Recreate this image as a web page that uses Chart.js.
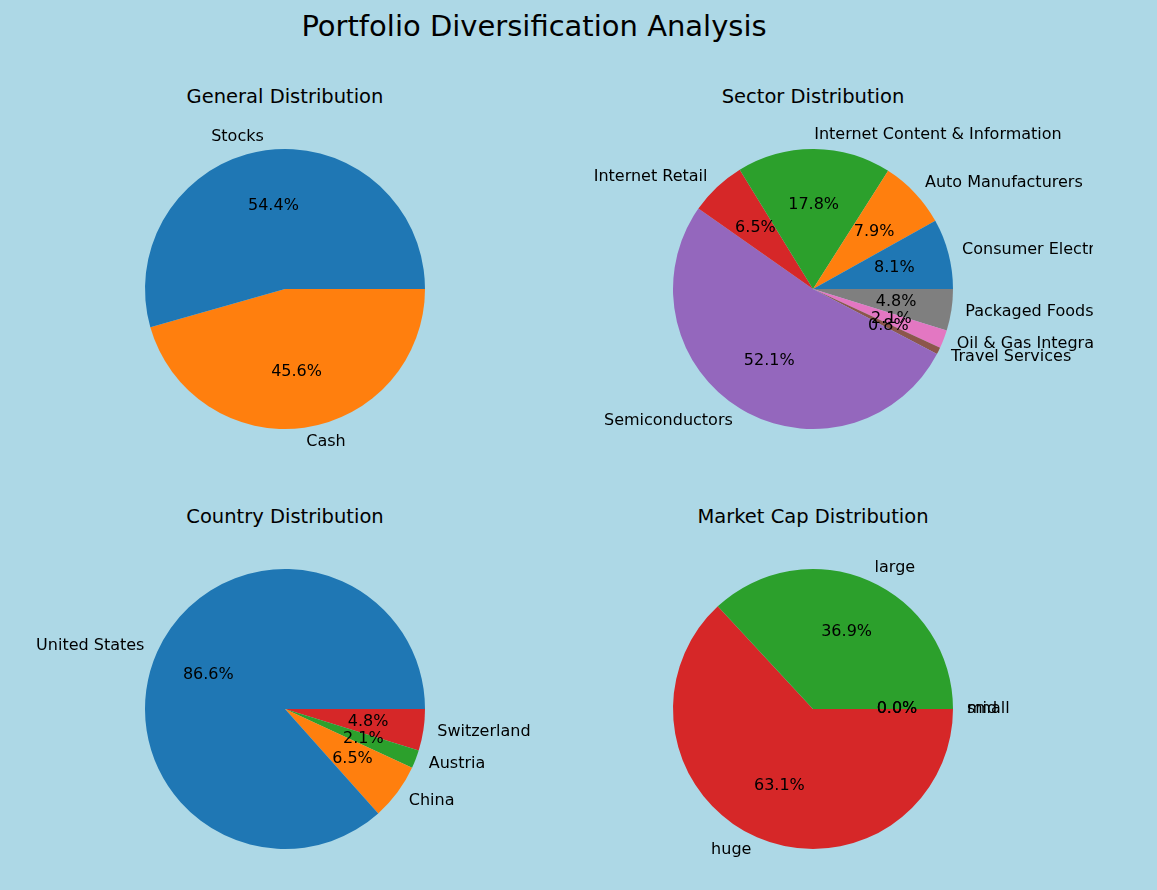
<!DOCTYPE html>
<html><head><meta charset="utf-8">
<script src="https://cdn.jsdelivr.net/npm/chart.js@4"></script>
<style>
body{margin:0;background:#add8e6;font-family:"DejaVu Sans",sans-serif;width:1157px;height:890px;position:relative;overflow:hidden}
.t{position:absolute;transform:translateX(-50%);white-space:nowrap;color:#000}
.box{position:absolute;width:560px;height:340px}
</style></head><body>
<div class="t" style="left:534px;top:9px;font-size:29px">Portfolio Diversification Analysis</div>
<div id="wrap"></div>
<script>
const TAB=['#1f77b4','#ff7f0e','#2ca02c','#d62728','#9467bd','#8c564b','#e377c2','#7f7f7f'];

// General
const generalLabels=['Stocks','Cash'];
const generalValues=[54.4,45.6];
// Sector
const sectorLabels=['Consumer Electronics','Auto Manufacturers','Internet Content & Information','Internet Retail','Semiconductors','Travel Services','Oil & Gas Integrated','Packaged Foods'];
const sectorValues=[8.1,7.9,17.8,6.5,52.1,0.8,2.1,4.8];
// Country
const countryLabels=['United States','China','Austria','Switzerland'];
const countryValues=[86.6,6.5,2.1,4.8];
// Market cap
const capLabels=['mid','small','large','huge'];
const capValues=[0,0,36.9,63.1];

const pies=[
  {title:'General Distribution',labels:generalLabels,values:generalValues,cx:285,cy:289},
  {title:'Sector Distribution',labels:sectorLabels,values:sectorValues,cx:813,cy:289},
  {title:'Country Distribution',labels:countryLabels,values:countryValues,cx:285,cy:709},
  {title:'Market Cap Distribution',labels:capLabels,values:capValues,cx:813,cy:709}
];

const labelPlugin={
  id:'mplLabels',
  afterDraw(chart){
    const ctx=chart.ctx, meta=chart.getDatasetMeta(0);
    const n=meta.data.length;
    ctx.save();
    ctx.font='16px "DejaVu Sans"';
    ctx.fillStyle='#000';
    ctx.textBaseline='middle';
    meta.data.forEach((arc,i)=>{
      const a=(arc.startAngle+arc.endAngle)/2, r=arc.outerRadius;
      const c=Math.cos(a), s=Math.sin(a);
      const lbl=chart.data.labels[i];
      const v=chart.data.datasets[0].data[i];
      ctx.textAlign=c>=-1e-9?'left':'right';
      ctx.fillText(lbl,arc.x+c*r*1.1,arc.y+s*r*1.1);
      ctx.textAlign='center';
      ctx.fillText(v.toFixed(1)+'%',arc.x+c*r*0.6,arc.y+s*r*0.6);
    });
    ctx.restore();
  }
};

const wrap=document.getElementById('wrap');
pies.forEach((p,k)=>{
  const t=document.createElement('div');
  t.className='t';t.style.left=p.cx+'px';t.style.top=(p.cy-204)+'px';t.style.fontSize='19.5px';
  t.textContent=p.title;document.body.appendChild(t);
  const d=document.createElement('div');
  d.className='box';d.style.left=(p.cx-280)+'px';d.style.top=(p.cy-170)+'px';
  const cv=document.createElement('canvas');d.appendChild(cv);wrap.appendChild(d);
  // matplotlib draws counter-clockwise from 3 o'clock: reverse order, clockwise from 3 o'clock
  const labels=[...p.labels].reverse(), values=[...p.values].reverse();
  const colors=p.labels.map((_,i)=>TAB[i]).reverse();
  new Chart(cv,{
    type:'pie',
    data:{labels,datasets:[{data:values,backgroundColor:colors,borderWidth:0}]},
    options:{
      responsive:true,maintainAspectRatio:false,animation:false,rotation:90,
      layout:{padding:{top:30,bottom:30}},
      plugins:{legend:{display:false},tooltip:{enabled:false}}
    },
    plugins:[labelPlugin]
  });
});
</script>
</body></html>
